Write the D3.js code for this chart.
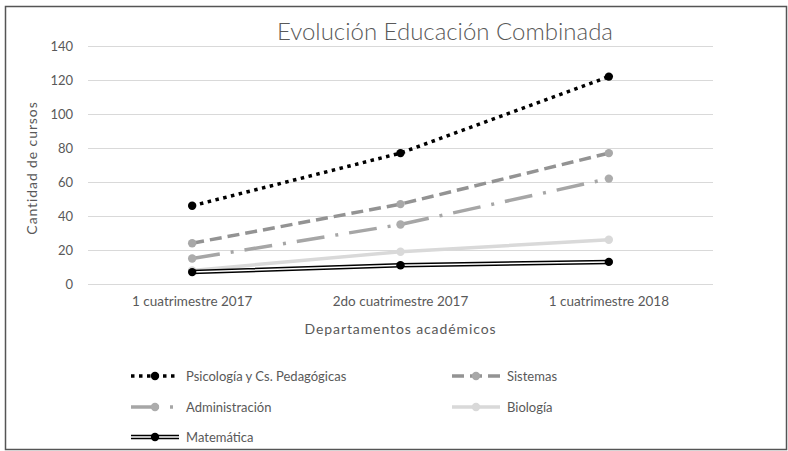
<!DOCTYPE html>
<html>
<head>
<meta charset="utf-8">
<script src="https://cdn.jsdelivr.net/npm/d3@7"></script>
<style>
  html, body { margin: 0; padding: 0; background: #fff; }
  svg { display: block; }
  text { font-family: Lato, "Open Sans", sans-serif; fill: #595959; }
</style>
</head>
<body>
<svg id="chart" width="788" height="451"></svg>
<script>
const categories = ["1 cuatrimestre 2017", "2do cuatrimestre 2017", "1 cuatrimestre 2018"];
const seriesNames = ["Psicología y Cs. Pedagógicas", "Sistemas", "Administración", "Biología", "Matemática"];
const psicologia = [46, 77, 122];
const sistemas = [24, 47, 77];
const administracion = [15, 35, 62];
const biologia = [8, 19, 26];
const matematica = [7, 11, 13];
const yTicks = [0, 20, 40, 60, 80, 100, 120, 140];
const title = "Evolución Educación Combinada";
const xTitle = "Departamentos académicos";
const yTitle = "Cantidad de cursos";

const styles = [
  { line: "#000", width: 3.5, dash: "3.5,4.5", marker: "#000" },
  { line: "#939393", width: 3.5, dash: "12,6", marker: "#a8a8a8" },
  { line: "#a6a6a6", width: 3.5, dash: "28,11,3,11", marker: "#acacac" },
  { line: "#d9d9d9", width: 3.5, dash: null, marker: "#d9d9d9" },
  { line: "#000", width: 4.5, dash: null, marker: "#000", double: true }
];
const allValues = [psicologia, sistemas, administracion, biologia, matematica];
const series = seriesNames.map((n, i) => ({ name: n, values: allValues[i], style: styles[i] }));

const svg = d3.select("#chart");
const W = 788, H = 451;
const m = { left: 88, right: 75, top: 46, bottom: 167 };

// frame
svg.append("rect").attr("x", 5.5).attr("y", 6.5).attr("width", 781).attr("height", 443)
  .attr("fill", "#fff").attr("stroke", "#555").attr("stroke-width", 1.5);

const x = d3.scaleBand().domain(categories).range([m.left, W - m.right]);
const y = d3.scaleLinear().domain([0, 140]).range([H - m.bottom, m.top]);

// gridlines
svg.append("g").selectAll("line").data(yTicks).join("line")
  .attr("x1", m.left).attr("x2", W - m.right)
  .attr("y1", d => y(d) + 0.5).attr("y2", d => y(d) + 0.5)
  .attr("stroke", "#d9d9d9").attr("stroke-width", 1);

// y axis labels
const yAxis = svg.append("g").attr("transform", `translate(${m.left - 15},0)`)
  .call(d3.axisLeft(y).tickValues(yTicks).tickSize(0).tickPadding(0));
yAxis.select(".domain").remove();
yAxis.selectAll("text").attr("font-size", 13).style("font-family", "Lato, sans-serif").attr("fill", "#595959");

// x axis labels
const xAxis = svg.append("g").attr("transform", `translate(0,${y(0) + 17})`)
  .call(d3.axisBottom(x).tickSize(0).tickPadding(0));
xAxis.select(".domain").remove();
xAxis.selectAll("text").attr("font-size", 13.5).attr("dy", "0.35em").style("font-family", "Lato, sans-serif").attr("fill", "#595959");

// titles
svg.append("text").attr("x", 445).attr("y", 40).attr("text-anchor", "middle")
  .attr("font-size", 24).attr("font-weight", 300).text(title);
svg.append("text").attr("x", (m.left + W - m.right) / 2).attr("y", 334).attr("text-anchor", "middle")
  .attr("font-size", 14).attr("letter-spacing", 0.9).text(xTitle);
svg.append("text").attr("transform", "translate(37,168) rotate(-90)").attr("text-anchor", "middle")
  .attr("font-size", 14).attr("letter-spacing", 0.9).text(yTitle);

// lines
const line = d3.line().x((d, i) => x(categories[i]) + x.bandwidth() / 2).y(d => y(d));
const gS = svg.append("g");
series.forEach(s => {
  const st = s.style;
  const p = gS.append("path").attr("d", line(s.values)).attr("fill", "none")
    .attr("stroke", st.line).attr("stroke-width", st.width).attr("stroke-linejoin", "round");
  if (st.dash) p.attr("stroke-dasharray", st.dash);
  if (st.double) {
    gS.append("path").attr("d", line(s.values)).attr("fill", "none")
      .attr("stroke", "#fff").attr("stroke-width", 1.5);
  }
  gS.append("g").selectAll("circle").data(s.values).join("circle")
    .attr("cx", (d, i) => x(categories[i]) + x.bandwidth() / 2)
    .attr("cy", d => y(d)).attr("r", 4.2).attr("fill", st.marker);
});

// legend
const legendPos = [
  { x: 131, y: 376 }, { x: 452, y: 376 },
  { x: 131, y: 407 }, { x: 452, y: 407 },
  { x: 131, y: 437 }
];
const symLen = 48;
series.forEach((s, i) => {
  const st = s.style, p = legendPos[i];
  const g = svg.append("g").attr("transform", `translate(${p.x},${p.y})`);
  const l = g.append("line").attr("x1", 0).attr("x2", symLen).attr("y1", 0).attr("y2", 0)
    .attr("stroke", st.line).attr("stroke-width", st.width);
  if (st.dash) l.attr("stroke-dasharray", st.dash);
  if (st.double) g.append("line").attr("x1", 0).attr("x2", symLen).attr("stroke", "#fff").attr("stroke-width", 1.5);
  g.append("circle").attr("cx", symLen / 2).attr("cy", 0).attr("r", 4.2).attr("fill", st.marker);
  g.append("text").attr("x", symLen + 7).attr("y", 0).attr("dy", "0.35em")
    .attr("font-size", 13).text(s.name);
});
</script>
</body>
</html>
